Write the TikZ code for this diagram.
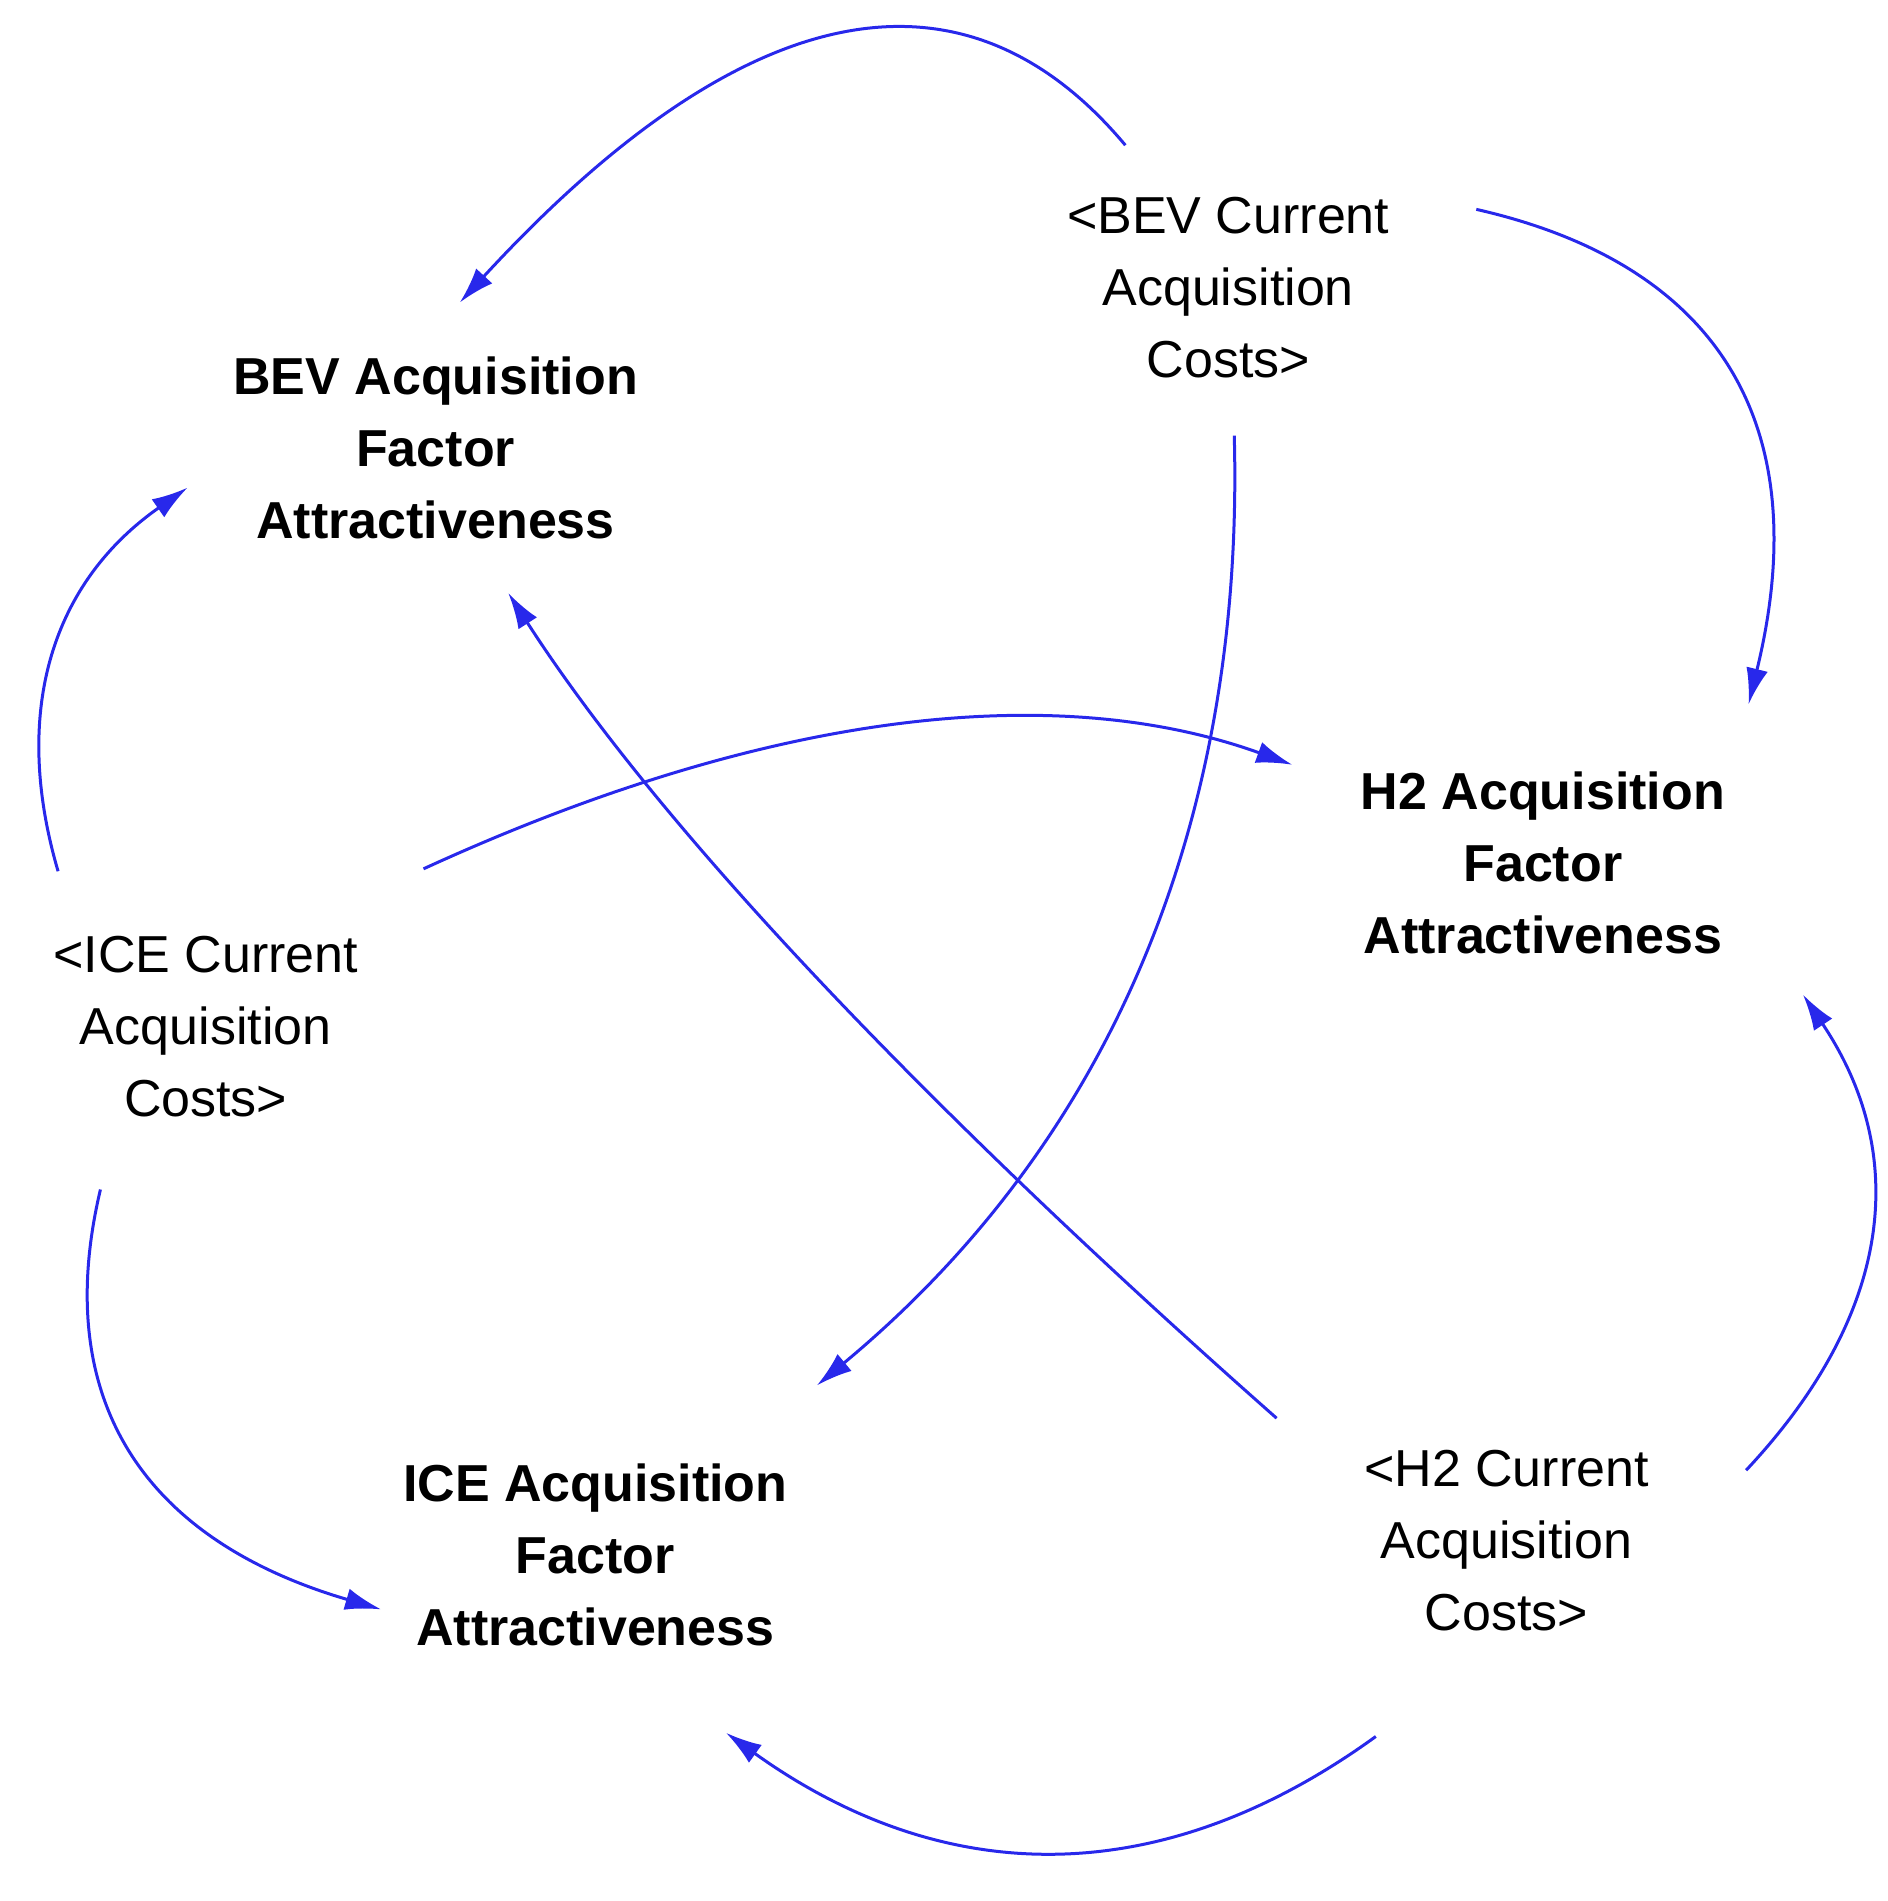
\documentclass[tikz,border=0pt]{standalone}
\usepackage{fontspec}
\setmainfont{Liberation Sans}
\usetikzlibrary{arrows.meta,calc}
\definecolor{arr}{RGB}{40,40,235}
\begin{document}
\begin{tikzpicture}[x=1.21pt,y=-1.21pt,
  lbl/.style={align=center,font=\fontsize{52}{72}\selectfont,inner sep=0pt},
  fac/.style={lbl,font=\fontsize{52}{72}\selectfont\bfseries},
  lnk/.style={draw=arr,line width=3pt,-{Latex[length=36pt,width=22pt]}}]
\useasboundingbox (0,0) rectangle (1560,1571);
\node[fac] (bevf) at (360,370) {BEV Acquisition\\Factor\\Attractiveness};
\node[lbl] (bevc) at (1015,238) {<BEV Current\\Acquisition\\Costs>};
\node[fac] (h2f) at (1275,713) {H2 Acquisition\\Factor\\Attractiveness};
\node[lbl] (icec) at (170,848) {<ICE Current\\Acquisition\\Costs>};
\node[fac] (icef) at (492,1285) {ICE Acquisition\\Factor\\Attractiveness};
\node[lbl] (h2c) at (1245,1273) {<H2 Current\\Acquisition\\Costs>};
\coordinate (a1) at (930,120); \coordinate (b1) at (380,250);
\coordinate (a2) at (1220,173); \coordinate (b2) at (1445,582);
\coordinate (a3) at (1020,360); \coordinate (b3) at (675,1145);
\coordinate (a4) at (48,720); \coordinate (b4) at (155,403);
\coordinate (a5) at (350,718); \coordinate (b5) at (1068,632);
\coordinate (a6) at (83,983); \coordinate (b6) at (315,1330);
\coordinate (a7) at (1055,1172); \coordinate (b7) at (420,490);
\coordinate (a8) at (1443,1215); \coordinate (b8) at (1490,822);
\coordinate (a9) at (1137,1435); \coordinate (b9) at (600,1432);
\newcommand\qarc[3]{\draw[lnk] (#1) .. controls ($(#1)!0.6667!(#3)$) and ($(#2)!0.6667!(#3)$) .. (#2);}
\qarc{a1}{b1}{725,-125}
\qarc{a2}{b2}{1528,243}
\qarc{a3}{b3}{1033,848}
\qarc{a4}{b4}{-11,519}
\qarc{a5}{b5}{771,525}
\qarc{a6}{b6}{21,1244}
\qarc{a7}{b7}{600,770}
\qarc{a8}{b8}{1624,1022}
\qarc{a9}{b9}{872,1627}
\end{tikzpicture}
\end{document}
